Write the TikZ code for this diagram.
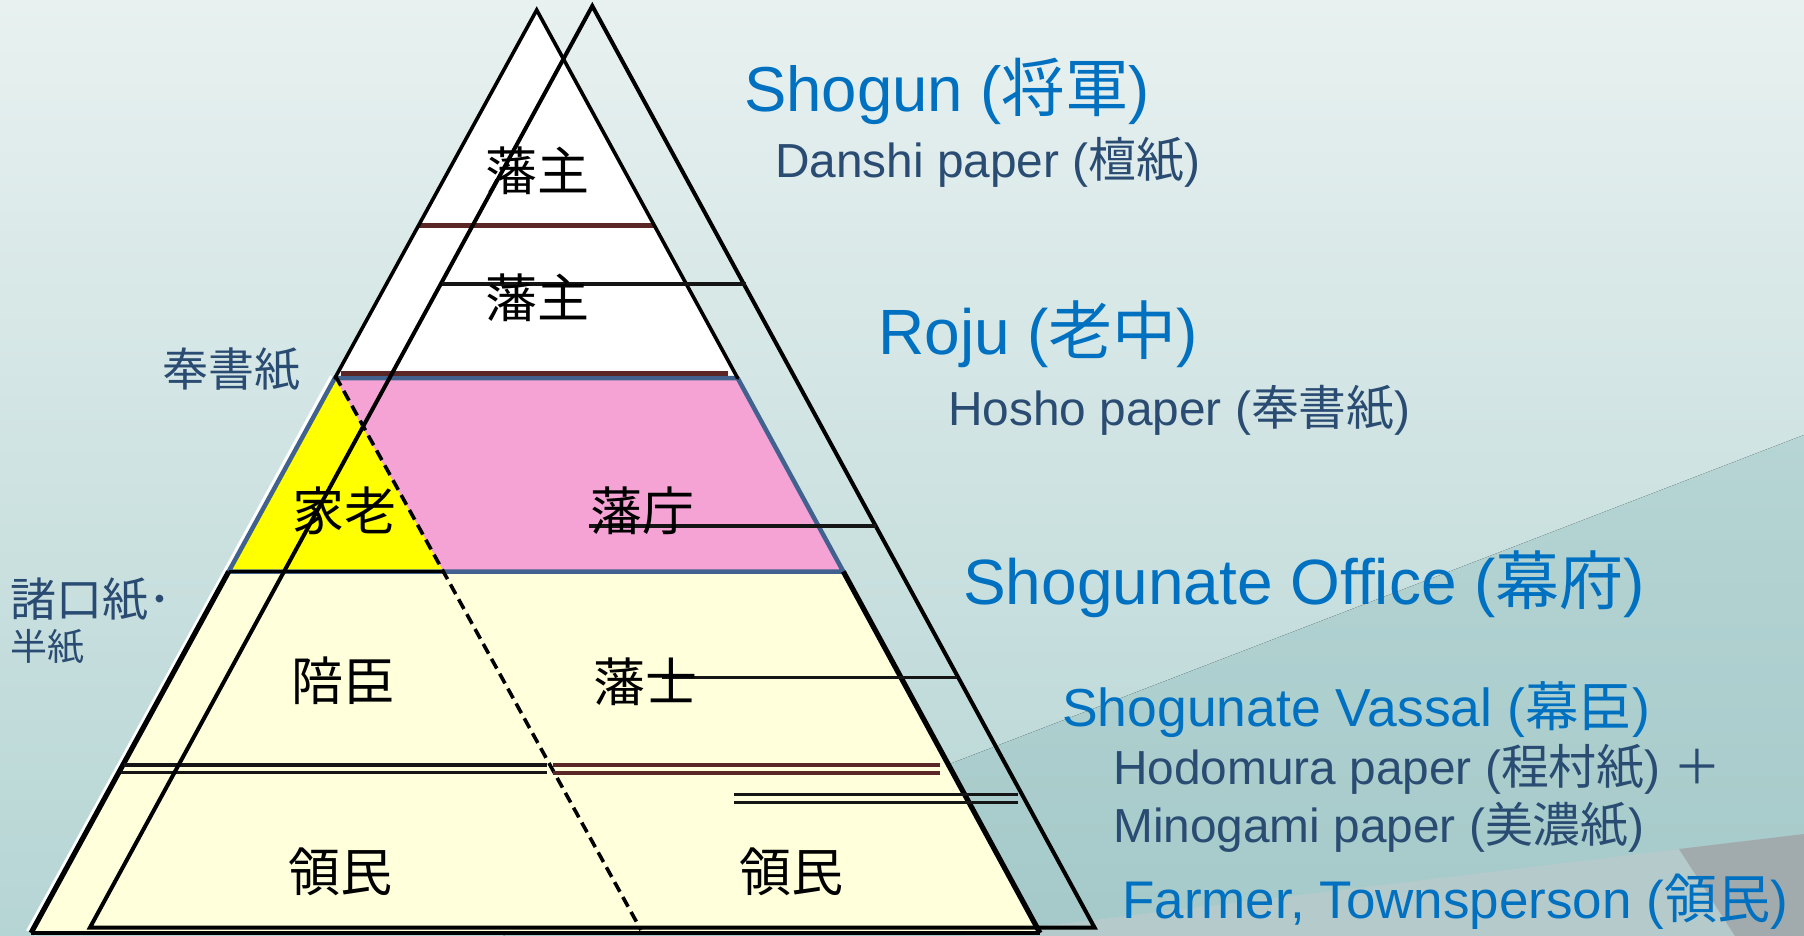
\documentclass[tikz,border=0pt]{standalone}
\usepackage{fontspec}
\setmainfont{Liberation Sans}
\newfontfamily\jp{Noto Sans CJK JP}
\usetikzlibrary{calc}
\definecolor{ttblue}{HTML}{0070C0}
\definecolor{subblue}{HTML}{2A4C72}
\definecolor{bandblue}{HTML}{41628F}
\definecolor{brownln}{HTML}{5A2626}
\definecolor{pinkfill}{HTML}{F5A3D5}
\definecolor{creamfill}{HTML}{FFFFDC}
\definecolor{yellowfill}{HTML}{FFFF00}
\definecolor{bgtop}{HTML}{E8F1F0}
\definecolor{bgbot}{HTML}{B5D5D4}
\definecolor{bandtop}{HTML}{B6D5D4}
\definecolor{bandbot}{HTML}{A5C9C9}
\definecolor{bandlow}{HTML}{B5CACA}
\definecolor{graypatch}{HTML}{A1AAAD}
\definecolor{lineblk}{HTML}{151515}
\tikzset{
  ttl/.style={font=\fontsize{63.5}{70}\selectfont, text=ttblue, inner sep=0pt, anchor=base west},
  ttlb/.style={font=\fontsize{53.5}{60}\selectfont, text=ttblue, inner sep=0pt, anchor=base west},
  subt/.style={font=\fontsize{47.8}{54}\selectfont, text=subblue, inner sep=0pt, anchor=base west},
  plab/.style={font=\jp\fontsize{52}{60}\selectfont, text=black, inner sep=0pt},
  llab/.style={font=\jp\fontsize{46}{52}\selectfont, text=subblue, inner sep=0pt},
  slab/.style={font=\jp\fontsize{37}{42}\selectfont, text=subblue, inner sep=0pt},
  hline/.style={draw=lineblk, line width=3.5pt},
  brownline/.style={draw=brownln, line width=4pt},
  pyrup/.style={draw=black, line width=3.6pt, line cap=round},
  pyrlow/.style={draw=black, line width=5.2pt},
  tri/.style={draw=black, line width=4pt, line join=miter},
  dashline/.style={draw=black, line width=3.6pt, dash pattern=on 11pt off 6pt},
}
\begin{document}
\begin{tikzpicture}[x=1pt,y=-1pt]
\useasboundingbox (0,0) rectangle (1804,936);
% ---------- background ----------
\fill[top color=bgtop, bottom color=bgbot] (0,0) rectangle (1804,936);
\fill[top color=bandtop, bottom color=bandbot] (503,936) -- (1804,435) -- (1804,936) -- cycle;
\fill[bandlow] (961,936) -- (1804,834) -- (1804,936) -- cycle;
\fill[graypatch] (1679,849) -- (1804,834) -- (1804,936) -- (1735,936) -- cycle;
% ---------- key points of the pyramid ----------
\coordinate (A) at (536.7,10);
\coordinate (BL) at (31,933);
\coordinate (BR) at (1040,933);
\coordinate (WL) at (334.9,378);
\coordinate (WR) at (737.6,378);
\coordinate (PL) at (228.7,571.5);
\coordinate (PR) at (843.3,571.5);
\coordinate (YR) at (443.5,571.5);
\coordinate (DE) at (641,930);
% right triangle
\coordinate (R) at (592.3,6);
\coordinate (RL) at (90,927.5);
\coordinate (RR) at (1094.5,927.5);
% ---------- white halo on left side ----------
\draw[white, line width=11pt] (WL) -- (BL);
% ---------- regions ----------
\fill[white] (A) -- (WL) -- (WR) -- cycle;
\fill[creamfill] (PL) -- (PR) -- (BR) -- (BL) -- cycle;
\fill[pinkfill] (WL) -- (WR) -- (PR) -- (PL) -- cycle;
\fill[yellowfill] (WL) -- (PL) -- (YR) -- cycle;
\draw[bandblue, line width=4.5pt, line join=round] (WL) -- (WR) -- (PR) -- (PL) -- cycle;
\draw[black, line width=3.5pt] (PL) -- (YR);
% brown separators in the white part
\draw[brownln, line width=5pt] (418,226) -- (655,226);
\draw[brownln, line width=4.5pt] (341,373.3) -- (728,373.3);
% pyramid outline
\draw[pyrup] (WL) -- (A) -- (WR);
\draw[pyrlow] (PL) -- (BL);
\draw[pyrlow] (PR) -- (BR);
\draw[black, line width=4.5pt] (BL) -- (BR);
% dashed divider
\draw[dashline] (335.5,376) -- (DE);
% double lines
\draw[hline] (124,765) -- (547,765);
\draw[hline] (121,772.5) -- (547,772.5);
\draw[brownline] (553,765) -- (940,765);
\draw[brownline] (553,772.5) -- (940,772.5);
\draw[hline] (734,794.5) -- (1018,794.5);
\draw[hline] (734,802.5) -- (1018,802.5);
% right (outer) triangle
\draw[tri] (R) -- (RR) -- (RL) -- cycle;
% horizontal connectors
\draw[hline] (442,284) -- (746,284);
\draw[hline] (589,526) -- (876,526);
\draw[hline] (662,677.5) -- (957,677.5);
% ---------- pyramid labels ----------
\node[plab] (hanshu1) at (537,171) {藩主};
\node[plab] (hanshu2) at (537,298) {藩主};
\node[plab] (karo) at (344,511) {家老};
\node[plab] (hancho) at (642,511) {藩庁};
\node[plab] (baishin) at (343,681) {陪臣};
\node[plab] (hanshi) at (645,682) {藩士};
\node[plab] (ryomin1) at (340,872) {領民};
\node[plab] (ryomin2) at (791,872) {領民};
% ---------- left labels ----------
\node[llab] (hosholbl) at (231,369) {奉書紙};
\node[llab, anchor=west] (shoguchi) at (10,599) {諸口紙･};
\node[slab, anchor=west] (hanshi2) at (10,647) {半紙};
% ---------- right labels ----------
\node[ttl] (shogun) at (744,112) {Shogun ({\jp 将軍})};
\node[subt] (danshi) at (775,178) {Danshi paper ({\jp 檀紙})};
\node[ttl, font=\fontsize{64}{70}\selectfont] (roju) at (878,354) {Roju ({\jp 老中})};
\node[subt] (hosho) at (948,425) {Hosho paper ({\jp 奉書紙})};
\node[ttl, font=\fontsize{64}{70}\selectfont] (office) at (963,604) {Shogunate Office ({\jp 幕府})};
\node[ttlb] (vassal) at (1062,726) {Shogunate Vassal ({\jp 幕臣})};
\node[subt] (hodomura) at (1113,784) {Hodomura paper ({\jp 程村紙}) {\jp ＋}};
\node[subt] (minogami) at (1113,842) {Minogami paper ({\jp 美濃紙})};
\node[ttlb, font=\fontsize{53}{60}\selectfont] (farmer) at (1122,918) {Farmer, Townsperson ({\jp 領民})};
\end{tikzpicture}
\end{document}
